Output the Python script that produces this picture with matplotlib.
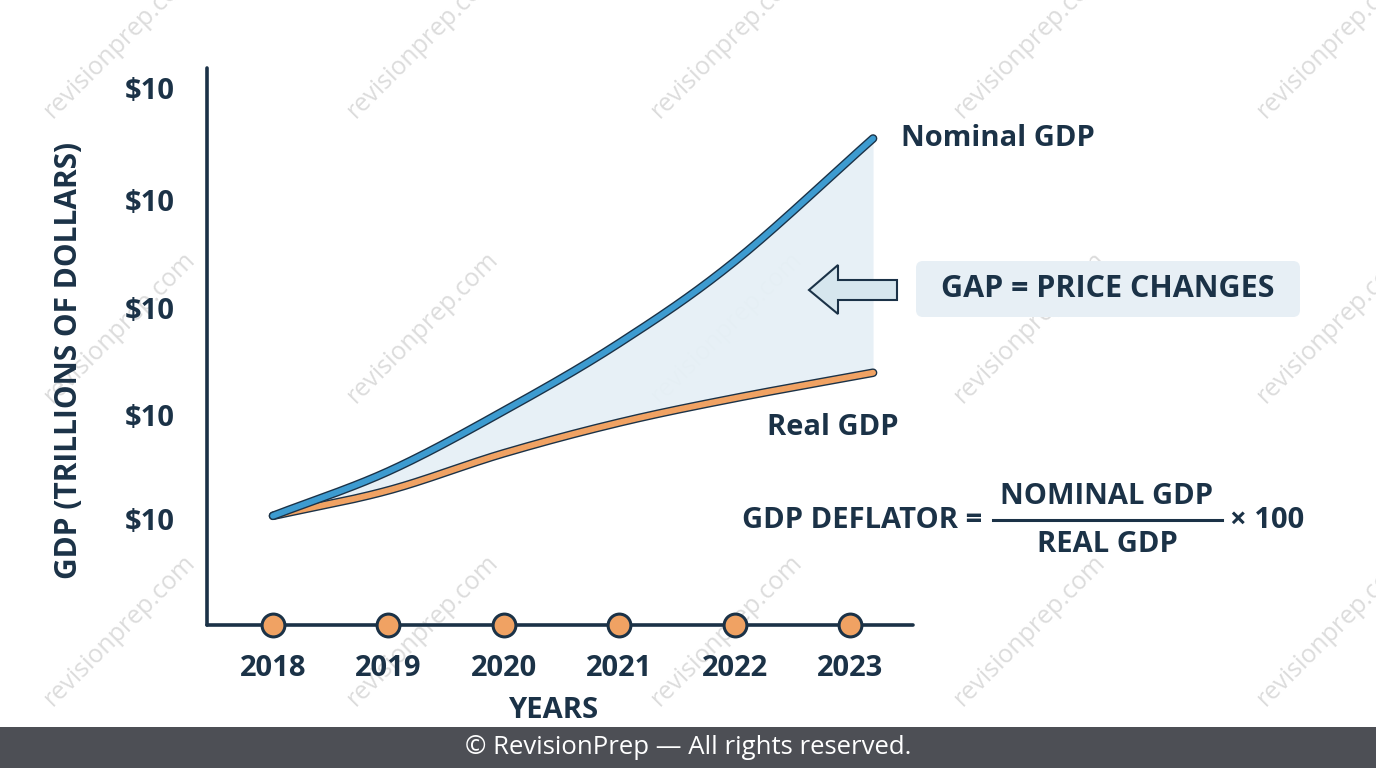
import numpy as np
import matplotlib.pyplot as plt
import matplotlib.patheffects as pe
from matplotlib.patches import FancyBboxPatch, Polygon, Rectangle

plt.rcParams['font.family'] = ['Open Sans', 'DejaVu Sans']

# data (y in "tick units", ticks all labelled $10)
years = [2018, 2019, 2020, 2021, 2022, 2023]
x_curve = [2018, 2019, 2020, 2021, 2022, 2023.2]
nominal = [1.03, 1.45, 2.02, 2.66, 3.43, 4.59]
real = [1.03, 1.27, 1.62, 1.91, 2.14, 2.38]
ytick_pos = [1.0, 1.98, 2.99, 4.01, 5.07]
ytick_lab = ['$10'] * 5

navy = '#1b3247'
blue = '#3d9bd0'
orange = '#f0a263'
fillc = '#e6f0f6'


def catmull(x, y, n=30):
    # smooth curve through the read points
    x = np.asarray(x, float)
    y = np.asarray(y, float)
    px = np.concatenate([[2 * x[0] - x[1]], x, [2 * x[-1] - x[-2]]])
    py = np.concatenate([[2 * y[0] - y[1]], y, [2 * y[-1] - y[-2]]])
    ox, oy = [], []
    for i in range(1, len(px) - 2):
        t = np.linspace(0, 1, n, endpoint=False)
        for p, o in ((px, ox), (py, oy)):
            p0, p1, p2, p3 = p[i - 1], p[i], p[i + 1], p[i + 2]
            o.extend(0.5 * (2 * p1 + (-p0 + p2) * t + (2 * p0 - 5 * p1 + 4 * p2 - p3) * t ** 2
                            + (-p0 + 3 * p1 - 3 * p2 + p3) * t ** 3))
    ox.append(x[-1])
    oy.append(y[-1])
    return np.array(ox), np.array(oy)


fig = plt.figure(figsize=(13.76, 7.68), dpi=100)
fig.patch.set_facecolor('white')

# overlay axis in pixel coords for watermark / annotations
ov = fig.add_axes([0, 0, 1, 1], zorder=0)
ov.set_xlim(0, 1376)
ov.set_ylim(768, 0)
ov.axis('off')

for cx in [120, 423, 727, 1030, 1333]:
    for cy in [42, 327, 630]:
        ov.text(cx, cy, 'revisionprep.com', rotation=45, ha='center', va='center',
                fontsize=18, color='#dcdcdc', zorder=0)

ax = fig.add_axes([207 / 1376, 1 - 625 / 768, 706 / 1376, 557 / 768], zorder=2)
ax.patch.set_alpha(0)
ax.set_xlim(2017.428, 2023.546)
ax.set_ylim(0, 5.255)

xn, yn = catmull(x_curve, nominal)
xr, yr = catmull(x_curve, real)

ax.fill_between(xn, yr, yn, color=fillc, alpha=0.95, lw=0, zorder=1)
ax.plot(xr, yr, color=orange, lw=4.2, solid_capstyle='round', zorder=3,
        path_effects=[pe.Stroke(linewidth=6.2, foreground=navy), pe.Normal()])
ax.plot(xn, yn, color=blue, lw=4.2, solid_capstyle='round', zorder=4,
        path_effects=[pe.Stroke(linewidth=6.2, foreground=navy), pe.Normal()])

ax.scatter(years, [0] * len(years), s=270, color=orange, edgecolor=navy,
           linewidth=2.2, zorder=5, clip_on=False)

for s in ['top', 'right']:
    ax.spines[s].set_visible(False)
for s in ['left', 'bottom']:
    ax.spines[s].set_color(navy)
    ax.spines[s].set_linewidth(2.6)
    ax.spines[s].set_capstyle('round')

ax.set_xticks(years)
ax.set_xticklabels([str(y) for y in years])
ax.set_yticks(ytick_pos)
ax.set_yticklabels(ytick_lab)
ax.tick_params(axis='both', length=0, colors=navy, labelsize=21)
ax.tick_params(axis='x', pad=21)
ax.tick_params(axis='y', pad=23)
for lab in ax.get_xticklabels() + ax.get_yticklabels():
    lab.set_fontweight('bold')

ax.set_ylabel('GDP (TRILLIONS OF DOLLARS)', fontsize=21.5, fontweight='bold', color=navy)
ax.yaxis.set_label_coords(-(207 - 84) / 706, (625 - 360) / 557)

# annotations
ax.text(2023.44, nominal[-1], 'Nominal GDP', fontsize=21, fontweight='bold',
        color=navy, va='center', ha='left')
ax.text(2022.28, real[-1] - 0.52, 'Real GDP', fontsize=21, fontweight='bold',
        color=navy, va='center', ha='left')

ov2 = fig.add_axes([0, 0, 1, 1], zorder=3)
ov2.set_xlim(0, 1376)
ov2.set_ylim(768, 0)
ov2.axis('off')

arrow = Polygon([(897, 280), (838, 280), (838, 265), (809, 290), (838, 314),
                 (838, 300), (897, 300)], closed=True, facecolor='#d6e6ee',
                edgecolor=navy, linewidth=1.5, joinstyle='miter')
ov2.add_patch(arrow)
ov2.add_patch(FancyBboxPatch((916, 261), 384, 56, boxstyle='round,pad=0,rounding_size=7',
                             facecolor='#e7eff5', edgecolor='none'))
ov2.text(1108, 289, 'GAP = PRICE CHANGES', fontsize=22, fontweight='bold',
         color=navy, ha='center', va='center')

ov2.text(982, 521, 'GDP DEFLATOR =', fontsize=21, fontweight='bold', color=navy,
         ha='right', va='center')
ov2.plot([993, 1222], [520, 520], color=navy, lw=2.2)
ov2.text(1107, 496, 'NOMINAL GDP', fontsize=21, fontweight='bold', color=navy,
         ha='center', va='center')
ov2.text(1107, 545, 'REAL GDP', fontsize=21, fontweight='bold', color=navy,
         ha='center', va='center')
ov2.text(1230, 521, '× 100', fontsize=21, fontweight='bold', color=navy,
         ha='left', va='center')

ov2.text(553, 710, 'YEARS', fontsize=21, fontweight='bold', color=navy,
         ha='center', va='center')

# footer
ov2.add_patch(Rectangle((0, 727), 1376, 41, facecolor='#4d4f55', edgecolor='none'))
ov2.text(688, 748, '© RevisionPrep — All rights reserved.', fontsize=18.5,
         color='white', ha='center', va='center')

fig.savefig('out.png', dpi=100)
